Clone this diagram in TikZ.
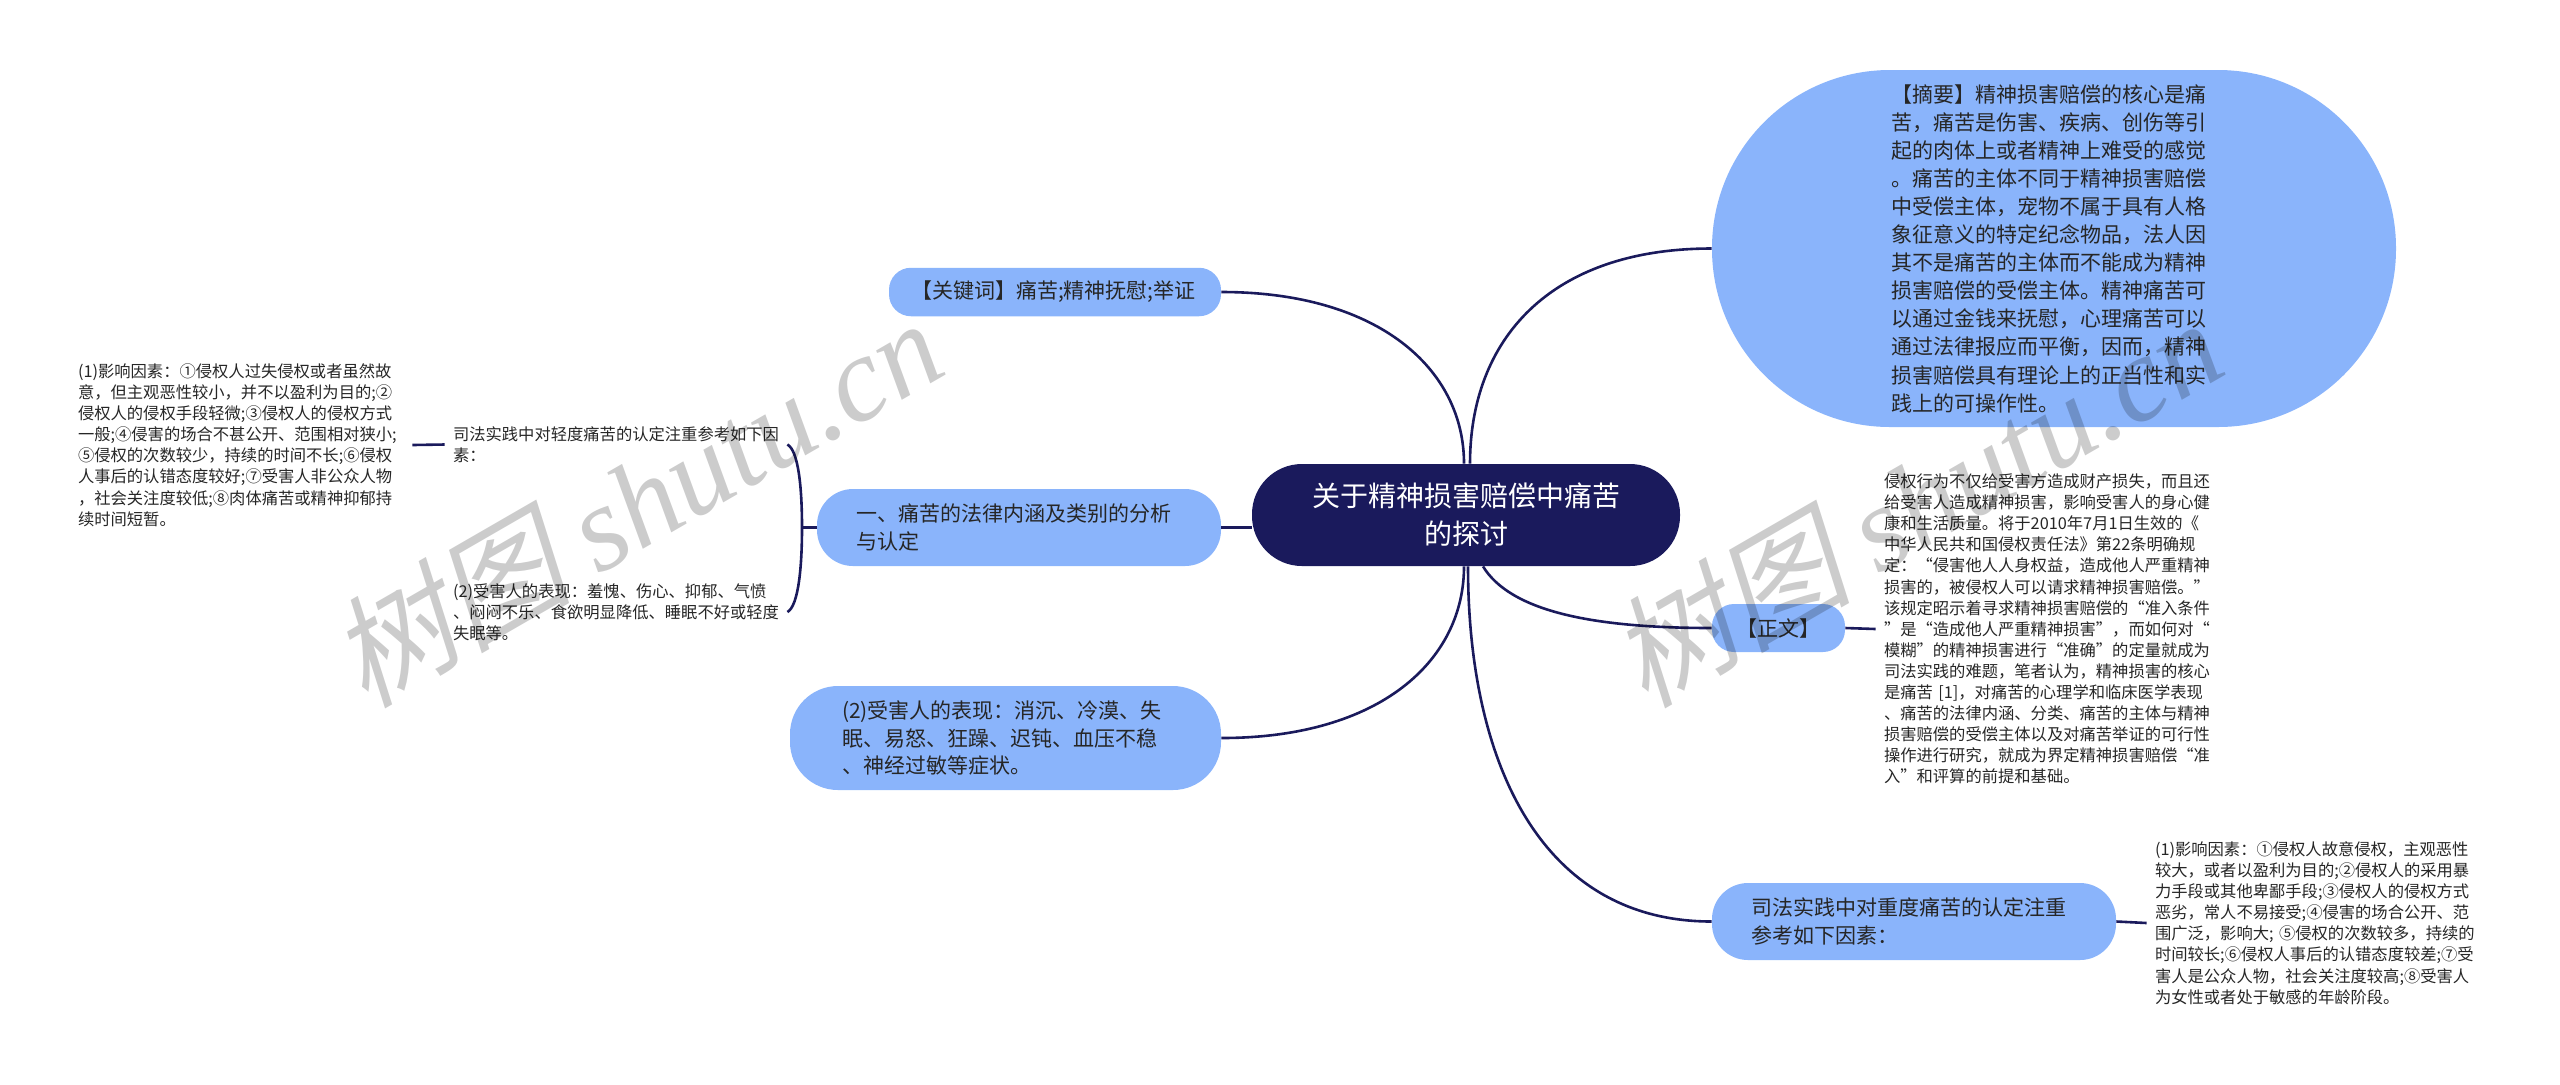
\documentclass[tikz,border=0pt]{standalone}
\usepackage{fontspec}
\setmainfont{Noto Sans CJK SC}
\newfontfamily\wmcjk[FakeSlant=0.22]{Noto Sans CJK SC}
\newfontfamily\wmlat{Liberation Serif Italic}
\definecolor{navy}{HTML}{1A1A5C}
\definecolor{sky}{HTML}{8AB4FB}
\definecolor{ink}{HTML}{262626}
\tikzset{
  blob/.style={rectangle,fill=sky,text=ink,inner ysep=0pt,align=left,font=\fontsize{10.5}{13.9}\selectfont},
  plain/.style={rectangle,text=ink,inner xsep=4pt,inner ysep=0pt,text width=163pt,align=left,font=\fontsize{8.15}{10.55}\selectfont},
  link/.style={draw=navy,line width=1.3pt},
  wmark/.style={text=black,text opacity=0.2,rotate=30,inner sep=0pt,font=\fontsize{60.5}{62}\selectfont}
}
\begin{document}
\begin{tikzpicture}[x=0.5pt,y=-0.5pt]
\useasboundingbox (0,0) rectangle (2560,1084);
\node[rectangle,fill=navy,text=white,rounded corners=25pt,minimum width=214pt,minimum height=51pt,inner sep=0pt,align=center,font=\fontsize{14}{19}\selectfont] (root) at (1466,515) {关于精神损害赔偿中痛苦\\的探讨};
\node[blob,rounded corners=11pt,minimum width=166pt,minimum height=24.25pt,inner xsep=11pt,text width=144pt] (kw) at (1055,292) {【关键词】痛苦;精神抚慰;举证};
\node[blob,rounded corners=18pt,minimum width=202pt,minimum height=38.5pt,inner xsep=19.5pt,text width=163pt] (law) at (1019,527.5) {一、痛苦的法律内涵及类别的分析\\与认定};
\node[blob,rounded corners=24pt,minimum width=215.5pt,minimum height=52pt,inner xsep=26pt,text width=163.5pt] (vict) at (1005.5,738) {(2)受害人的表现：消沉、冷漠、失\\眠、易怒、狂躁、迟钝、血压不稳\\、神经过敏等症状。};
\node[blob,rounded corners=89pt,minimum width=342pt,minimum height=178.5pt,inner xsep=89.5pt,text width=163pt,font=\fontsize{10.5}{14.05}\selectfont] (abs) at (2054,248.5) {【摘要】精神损害赔偿的核心是痛\\苦，痛苦是伤害、疾病、创伤等引\\起的肉体上或者精神上难受的感觉\\。痛苦的主体不同于精神损害赔偿\\中受偿主体，宠物不属于具有人格\\象征意义的特定纪念物品，法人因\\其不是痛苦的主体而不能成为精神\\损害赔偿的受偿主体。精神痛苦可\\以通过金钱来抚慰，心理痛苦可以\\通过法律报应而平衡，因而，精神\\损害赔偿具有理论上的正当性和实\\践上的可操作性。};
\node[blob,rounded corners=11pt,minimum width=66.5pt,minimum height=24pt,inner xsep=0pt,align=center] (zw) at (1778.5,628) {【正文】};
\node[blob,rounded corners=18pt,minimum width=202pt,minimum height=38.5pt,inner xsep=19.5pt,text width=163pt] (heavy) at (1914,921.5) {司法实践中对重度痛苦的认定注重\\参考如下因素：};
\node[plain] (lfact) at (241,445) {(1)影响因素：①侵权人过失侵权或者虽然故\\意，但主观恶性较小，并不以盈利为目的;②\\侵权人的侵权手段轻微;③侵权人的侵权方式\\一般;④侵害的场合不甚公开、范围相对狭小;\\⑤侵权的次数较少，持续的时间不长;⑥侵权\\人事后的认错态度较好;⑦受害人非公众人物\\，社会关注度较低;⑧肉体痛苦或精神抑郁持\\续时间短暂。};
\node[plain] (light) at (616,444.5) {司法实践中对轻度痛苦的认定注重参考如下因\\素：};
\node[plain] (shame) at (616,612) {(2)受害人的表现：羞愧、伤心、抑郁、气愤\\、闷闷不乐、食欲明显降低、睡眠不好或轻度\\失眠等。};
\node[plain] (body) at (2047,629) {侵权行为不仅给受害方造成财产损失，而且还\\给受害人造成精神损害，影响受害人的身心健\\康和生活质量。将于2010年7月1日生效的《\\中华人民共和国侵权责任法》第22条明确规\\定：“侵害他人人身权益，造成他人严重精神\\损害的，被侵权人可以请求精神损害赔偿。”\\该规定昭示着寻求精神损害赔偿的“准入条件\\”是“造成他人严重精神损害”，而如何对“\\模糊”的精神损害进行“准确”的定量就成为\\司法实践的难题，笔者认为，精神损害的核心\\是痛苦 [1]，对痛苦的心理学和临床医学表现\\、痛苦的法律内涵、分类、痛苦的主体与精神\\损害赔偿的受偿主体以及对痛苦举证的可行性\\操作进行研究，就成为界定精神损害赔偿“准\\入”和评算的前提和基础。};
\node[plain] (hfact) at (2318,923) {(1)影响因素：①侵权人故意侵权，主观恶性\\较大，或者以盈利为目的;②侵权人的采用暴\\力手段或其他卑鄙手段;③侵权人的侵权方式\\恶劣，常人不易接受;④侵害的场合公开、范\\围广泛，影响大; ⑤侵权的次数较多，持续的\\时间较长;⑥侵权人事后的认错态度较差;⑦受\\害人是公众人物，社会关注度较高;⑧受害人\\为女性或者处于敏感的年龄阶段。};
\coordinate (jn) at (802,527.5);
\draw[link] ([xshift=-1pt]root.north) .. controls +(0,-94) and +(158,0) .. (kw.east);
\draw[link] ([xshift=2pt]root.north) .. controls +(0,-124) and +(-162,0) .. (abs.west);
\draw[link] (root.west |- law.east) -- (law.east);
\draw[link] ([xshift=-1pt]root.south) .. controls +(0,94) and +(159,0) .. (vict.east);
\draw[link] ([xshift=8.5pt]root.south) .. controls +(27,44) and +(-122,0) .. (zw.west);
\draw[link] ([xshift=1pt]root.south) .. controls +(0,194) and +(-172,0) .. (heavy.west);
\draw[link] (law.west) -- (jn);
\draw[link] (light.east) .. controls +(11,6) and +(0,-40) .. (jn) .. controls +(0,40) and +(11,-6) .. (shame.east);
\draw[link] (light.west) -- (lfact.east);
\draw[link] (zw.east) -- (body.west);
\draw[link] (heavy.east) -- (hfact.west);
\node[wmark] (wma) at (635,501) {{\wmcjk 树图} {\wmlat shutu.cn}};
\node[wmark] (wmb) at (1915,501) {{\wmcjk 树图} {\wmlat shutu.cn}};
\end{tikzpicture}
\end{document}
